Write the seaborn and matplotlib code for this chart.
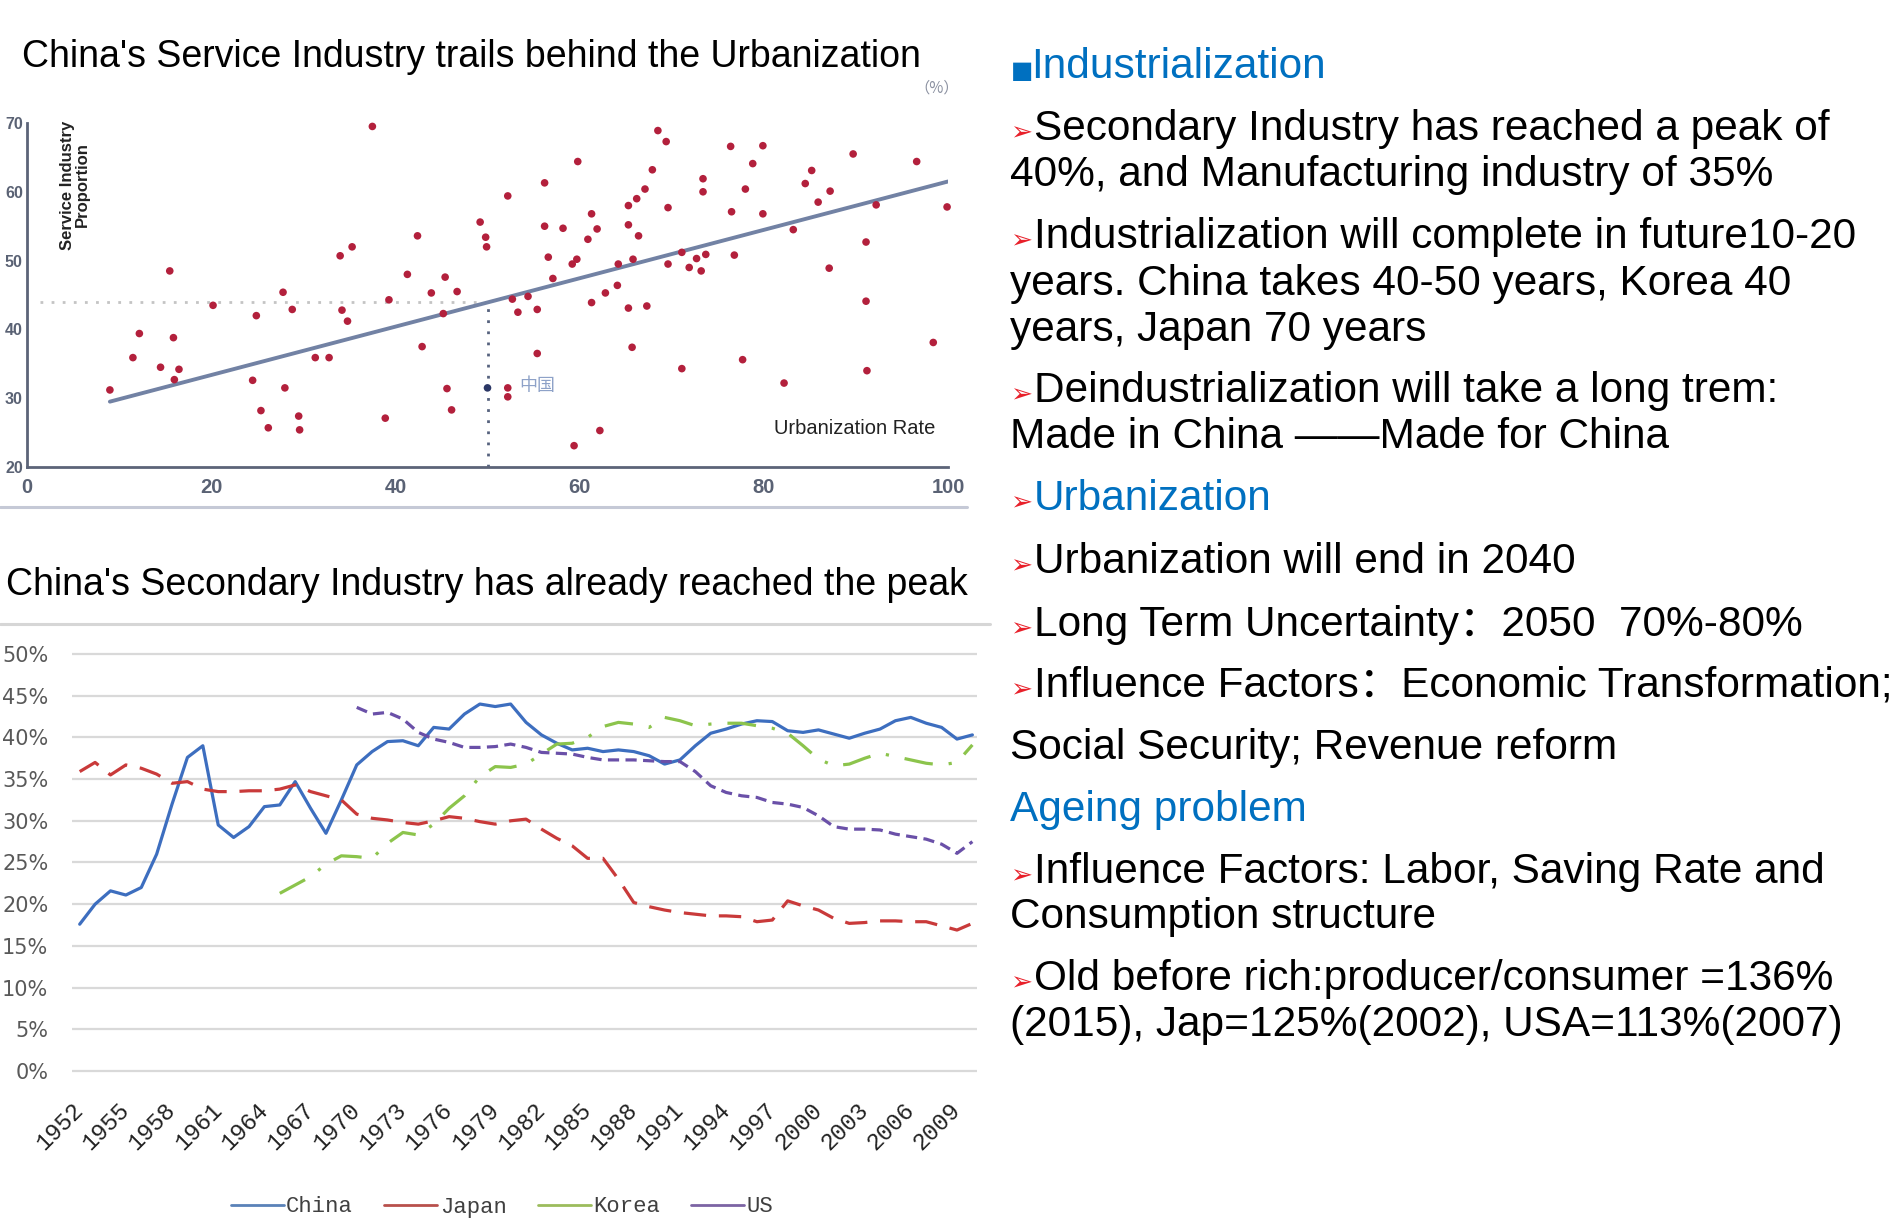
import pandas as pd
import matplotlib.pyplot as plt
import seaborn as sns
from matplotlib.lines import Line2D

sns.set_style('white')
plt.rcParams['font.family'] = ['Liberation Sans', 'Noto Sans CJK SC', 'DejaVu Sans']

W, H = 1896, 1224

# --- scatter: urbanization rate vs service industry share ---
urban_rate = [37.5, 15.5, 9.0, 12.2, 11.5, 14.5, 15.9, 16.5, 16.0, 20.2, 24.9, 24.5, 25.4, 26.2,
              27.8, 28.8, 28.0, 29.5, 29.6, 31.3, 32.8, 34.0, 35.3, 34.2, 34.8, 38.9, 39.3, 41.3,
              42.4, 42.9, 43.9, 45.4, 45.2, 46.7, 45.6, 46.1, 49.2, 49.8, 49.9,
              68.5, 69.4, 59.8, 52.2, 56.2, 56.2, 58.2, 56.6, 57.1, 59.2, 59.7, 52.7, 53.3, 54.4,
              55.4, 55.4, 52.2, 52.2, 61.3, 61.9, 60.9, 61.3, 62.8, 64.1, 64.2, 65.3, 66.2, 67.1,
              67.9, 65.3, 66.4, 65.8, 65.3, 67.3, 65.7, 59.4, 62.2, 69.6, 69.6, 71.1, 71.9, 72.7,
              73.2, 73.7, 73.4, 73.4, 71.1, 76.4, 76.5, 76.8, 78.0, 78.8, 79.9, 79.9, 77.7, 82.2,
              83.2, 84.5, 85.2, 85.9, 87.2, 87.1, 89.7, 92.2, 91.1, 91.1, 91.2, 96.6, 99.9, 98.4]
service_share = [69.5, 48.5, 31.2, 39.4, 35.9, 34.5, 38.8, 34.2, 32.7, 43.5, 42.0, 32.6, 28.2, 25.7,
                 45.4, 42.9, 31.5, 27.4, 25.4, 35.9, 35.9, 50.7, 52.0, 42.8, 41.2, 27.1, 44.3, 48.0,
                 53.6, 37.5, 45.3, 47.6, 42.3, 45.5, 31.4, 28.3, 55.6, 53.4, 52.0,
                 68.9, 67.3, 64.4, 59.4, 61.3, 55.0, 54.7, 50.5, 47.4, 49.5, 50.2, 44.4, 42.5, 44.8,
                 42.9, 36.5, 31.5, 30.2, 56.8, 54.6, 53.1, 43.9, 45.3, 46.4, 49.5, 58.0, 59.0, 60.4,
                 63.2, 55.2, 53.6, 50.2, 43.1, 43.4, 37.4, 23.1, 25.3, 57.7, 49.5, 51.2, 49.0, 50.3,
                 48.5, 50.9, 61.9, 60.0, 34.3, 66.6, 57.1, 50.8, 60.4, 64.1, 66.7, 56.8, 35.6, 32.2,
                 54.5, 61.2, 63.1, 58.5, 60.1, 48.9, 65.5, 58.1, 52.7, 44.1, 34.0, 64.4, 57.8, 38.1]
trend_x = [9, 100]
trend_y = [29.5, 61.5]
china_urban = [50]
china_service = [31.5]
china_expected = 44.0
scatter_xticks = [0, 20, 40, 60, 80, 100]
scatter_yticks = [20, 30, 40, 50, 60, 70]

# --- secondary industry share, % of GDP ---
years_china = list(range(1952, 2011))
china = [17.6, 20.0, 21.6, 21.1, 22.0, 26.0, 32.0, 37.6, 39.0, 29.5,
         28.0, 29.3, 31.7, 31.9, 34.7, 31.5, 28.5, 32.5, 36.7, 38.3,
         39.5, 39.6, 39.0, 41.2, 41.0, 42.8, 44.0, 43.7, 44.0, 41.8,
         40.3, 39.3, 38.5, 38.7, 38.3, 38.5, 38.3, 37.8, 36.8, 37.3,
         39.0, 40.5, 41.0, 41.6, 42.0, 41.9, 40.8, 40.6, 40.9, 40.4,
         39.9, 40.5, 41.0, 42.0, 42.4, 41.7, 41.2, 39.8, 40.3]
years_japan = list(range(1952, 2011))
japan = [35.9, 37.0, 35.5, 36.7, 36.3, 35.6, 34.5, 34.7, 33.8, 33.5,
         33.5, 33.6, 33.6, 33.8, 34.3, 33.5, 33.0, 32.5, 30.8, 30.3,
         30.1, 29.8, 29.6, 30.0, 30.5, 30.3, 29.9, 29.6, 30.0, 30.2,
         29.0, 27.9, 27.0, 25.5, 25.5, 23.0, 20.2, 19.7, 19.3, 19.0,
         18.8, 18.6, 18.6, 18.5, 17.9, 18.1, 20.4, 19.8, 19.3, 18.3,
         17.7, 17.8, 18.0, 18.0, 17.9, 17.9, 17.4, 16.9, 17.7]
years_korea = list(range(1965, 2011))
korea = [21.3, 22.3, 23.3, 24.8, 25.8, 25.7, 25.5, 27.3, 28.6, 28.3,
         29.6, 31.5, 33.0, 35.3, 36.5, 36.4, 36.8, 38.0, 39.2, 39.3,
         40.0, 41.3, 41.8, 41.6, 41.2, 42.4, 42.0, 41.4, 41.6, 41.7,
         41.7, 41.4, 41.1, 40.5, 39.0, 37.4, 36.6, 36.8, 37.5, 38.1,
         37.7, 37.3, 36.9, 36.7, 37.0, 39.1]
years_us = list(range(1970, 2011))
us = [43.6, 42.8, 43.0, 42.2, 40.6, 39.8, 39.4, 38.8, 38.8, 38.9,
      39.2, 38.8, 38.2, 38.1, 38.0, 37.6, 37.3, 37.3, 37.3, 37.2,
      37.1, 37.1, 35.9, 34.2, 33.4, 33.0, 32.8, 32.2, 32.0, 31.6,
      30.6, 29.3, 29.0, 29.0, 28.9, 28.4, 28.1, 27.8, 27.2, 26.1,
      27.5]
year_ticks = list(range(1952, 2010, 3))
pct_ticks = [0, 5, 10, 15, 20, 25, 30, 35, 40, 45, 50]

countries = ['China', 'Japan', 'Korea', 'US']
line_colors = {'China': '#3d6ebf', 'Japan': '#c93a3a', 'Korea': '#8cc44c', 'US': '#6a50a8'}
legend_colors = {'China': '#5a82b8', 'Japan': '#b8504c', 'Korea': '#9cbc5c', 'US': '#7c64a4'}
line_dashes = {'China': '', 'Japan': (7, 4), 'Korea': (9, 5, 1, 5), 'US': (3.5, 2)}

title_top = "China's Service Industry trails behind the Urbanization"
title_bottom = "China's Secondary Industry has already reached the peak"

# (bullet, text, colour, y-centre in px)
BLUE = '#0070c0'
panel = [
    ('■', 'Industrialization', BLUE, 65),
    ('➢', 'Secondary Industry has reached a peak of', 'black', 127),
    ('', '40%, and Manufacturing industry of 35%', 'black', 173),
    ('➢', 'Industrialization will complete in future10-20', 'black', 235),
    ('', 'years. China takes 40-50 years, Korea 40', 'black', 282),
    ('', 'years, Japan 70 years', 'black', 328),
    ('➢', 'Deindustrialization will take a long trem:', 'black', 389),
    ('', 'Made in China ——Made for China', 'black', 435),
    ('➢', 'Urbanization', BLUE, 497),
    ('➢', 'Urbanization will end in 2040', 'black', 560),
    ('➢', 'Long Term Uncertainty：2050  70%-80%', 'black', 623),
    ('➢', 'Influence Factors：Economic Transformation;', 'black', 684),
    ('', 'Social Security; Revenue reform', 'black', 746),
    ('', 'Ageing problem', BLUE, 808),
    ('➢', 'Influence Factors: Labor, Saving Rate and', 'black', 870),
    ('', 'Consumption structure', 'black', 915),
    ('➢', 'Old before rich:producer/consumer =136%', 'black', 977),
    ('', '(2015), Jap=125%(2002), USA=113%(2007)', 'black', 1023),
]


def fx(px):
    return px / W


def fy(py):
    return 1 - py / H


fig = plt.figure(figsize=(W / 100, H / 100), dpi=100)
fig.patch.set_facecolor('white')

# ---------------- top scatter ----------------
ax1 = fig.add_axes([fx(27), fy(467), 921 / W, 344 / H])
ax1.set_facecolor('white')
sc = pd.DataFrame({'urban': urban_rate, 'service': service_share})
sns.lineplot(x=trend_x, y=trend_y, ax=ax1, color='#7282a4', linewidth=2.8, zorder=2)
sns.scatterplot(data=sc, x='urban', y='service', ax=ax1, color='#b3203c', s=30,
                edgecolor='none', zorder=3, clip_on=False)
ax1.plot([1.4, china_urban[0]], [china_expected, china_expected], ls=(0, (1, 3)),
         color='#c4c4c4', lw=2, zorder=1)
ax1.plot([china_urban[0], china_urban[0]], [20, china_expected], ls=(0, (1, 3)),
         color='#56627e', lw=2, zorder=1)
sns.scatterplot(x=china_urban, y=china_service, ax=ax1, color='#2b3766', s=30,
                edgecolor='none', zorder=4)
ax1.text(53.5, china_service[0] + 0.3, '中国', fontsize=13, color='#8ea2c8', va='center',
         family=['Noto Sans CJK SC', 'DejaVu Sans'])
ax1.set_xlim(0, 100)
ax1.set_ylim(20, 70)
ax1.set_xticks(scatter_xticks)
ax1.set_yticks(scatter_yticks)
ax1.set_xlabel('')
ax1.set_ylabel('')
for side in ['top', 'right']:
    ax1.spines[side].set_visible(False)
for side in ['left', 'bottom']:
    ax1.spines[side].set_color('#5c6478')
    ax1.spines[side].set_linewidth(2)
ax1.tick_params(axis='both', direction='in', length=6, width=2, color='#5c6478',
                labelcolor='#5a6274')
ax1.tick_params(axis='x', pad=8, labelsize=14.5)
ax1.tick_params(axis='y', pad=3, labelsize=11.5)
for lab in ax1.get_xticklabels() + ax1.get_yticklabels():
    lab.set_fontweight('bold')

fig.text(fx(75), fy(185), 'Service Industry\nProportion', rotation=90, ha='center',
         va='center', fontsize=12, fontweight='bold', linespacing=1.0, color='#222222')
fig.text(fx(935), fy(428), 'Urbanization Rate', ha='right', va='center', fontsize=14.5,
         color='#222222')
fig.text(fx(937), fy(88), '（%）', ha='center', va='center', fontsize=11, color='#8a90a0',
         family=['Noto Sans CJK SC', 'DejaVu Sans'])

fig.text(fx(22), fy(57), title_top, ha='left', va='center', fontsize=27, color='black')
fig.text(fx(6), fy(585), title_bottom, ha='left', va='center', fontsize=27, color='black')

fig.add_artist(Line2D([0, fx(967)], [fy(507), fy(507)], color='#c5c9d6', lw=2.2,
                      transform=fig.transFigure))
fig.add_artist(Line2D([0, fx(990)], [fy(624), fy(624)], color='#d6d6d6', lw=2.2,
                      transform=fig.transFigure))

# ---------------- bottom line chart ----------------
frames = [
    pd.DataFrame({'year': years_china, 'share': china, 'country': 'China'}),
    pd.DataFrame({'year': years_japan, 'share': japan, 'country': 'Japan'}),
    pd.DataFrame({'year': years_korea, 'share': korea, 'country': 'Korea'}),
    pd.DataFrame({'year': years_us, 'share': us, 'country': 'US'}),
]
df = pd.concat(frames, ignore_index=True)

ax2 = fig.add_axes([fx(72), fy(1073.5), 905 / W, 422 / H])
ax2.set_facecolor('white')
sns.lineplot(data=df, x='year', y='share', hue='country', style='country',
             hue_order=countries, style_order=countries, palette=line_colors,
             dashes=line_dashes, linewidth=2.3, errorbar=None, legend=False, ax=ax2)
ax2.set_xlim(1951.5, 2010.3)
ax2.set_ylim(-0.3, 50.3)
ax2.set_yticks(pct_ticks)
ax2.set_yticklabels([f'{v}%' for v in pct_ticks], fontsize=15, color='#595959',
                    family='DejaVu Sans')
ax2.set_xticks(year_ticks)
ax2.set_xticklabels([str(y) for y in year_ticks], rotation=45, ha='right', va='center',
                    rotation_mode='anchor', fontsize=17, color='#222222',
                    family='Liberation Mono')
ax2.tick_params(axis='y', length=0, pad=17)
ax2.tick_params(axis='x', length=0, pad=24)
ax2.yaxis.grid(True, color='#d9d9d9', lw=1.6)
ax2.xaxis.grid(False)
ax2.set_axisbelow(True)
for side in ['top', 'right', 'left', 'bottom']:
    ax2.spines[side].set_visible(False)
ax2.set_xlabel('')
ax2.set_ylabel('')

handles = [Line2D([], [], color=legend_colors[c], lw=2) for c in countries]
leg = fig.legend(handles, countries, loc='center', bbox_to_anchor=(fx(502), fy(1207)),
                 ncol=4, frameon=False, handlelength=2.4, handletextpad=0.1,
                 columnspacing=1.4, prop={'family': 'Liberation Mono', 'size': 16})
for t in leg.get_texts():
    t.set_color('#404040')

# ---------------- text panel ----------------
for bullet, text, color, yc in panel:
    base = fy(yc + 13)
    if bullet == '■':
        fig.text(fx(1011), base, bullet, fontsize=17, color=BLUE, va='baseline',
                 family='DejaVu Sans')
        fig.text(fx(1031), base, text, fontsize=30.5, color=color, va='baseline')
    elif bullet:
        fig.text(fx(1010), base, bullet, fontsize=19, color='#e8202a', va='baseline',
                 family='DejaVu Sans')
        fig.text(fx(1034), base, text, fontsize=30.5, color=color, va='baseline')
    else:
        fig.text(fx(1010), base, text, fontsize=30.5, color=color, va='baseline')

fig.savefig('out.png', dpi=100, facecolor='white')
